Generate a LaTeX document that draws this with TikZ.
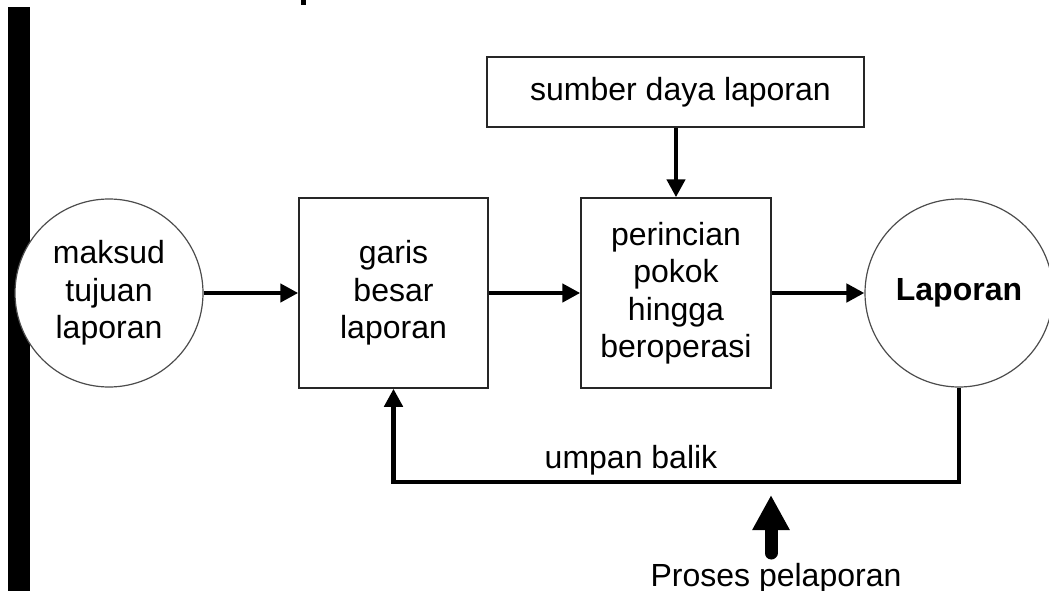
\documentclass[tikz,border=0pt]{standalone}
\usepackage{fontspec}
\setmainfont{Liberation Sans}
\usetikzlibrary{arrows.meta}
\begin{document}
\begin{tikzpicture}[x=1pt,y=-1pt,
  txt/.style={font=\fontsize{32}{37.5}\selectfont},
  box/.style={txt, draw=black!85, line width=1.5pt, inner sep=0pt, align=center},
  circ/.style={txt, circle, draw=black!70, fill=white, line width=1.2pt, minimum size=188pt, inner sep=0pt, align=center},
  conn/.style={line width=4.5pt, -{Triangle[length=18pt,width=18pt]}},
  lbl/.style={txt, inner sep=0pt, anchor=base}]
\useasboundingbox (0,0) rectangle (1049,591);
% left black bar and title remnant
\fill[black] (8,7) rectangle (30,591);
\fill[black] (301,0) rectangle (306,5);
% nodes
\node[circ] (tuj) at (109,293) {maksud\\tujuan\\laporan};
\node[box, minimum width=189pt, minimum height=190pt] (gar) at (393.5,293) {garis\\besar\\laporan};
\node[box, minimum width=190pt, minimum height=190pt] (per) at (676,293) {perincian\\pokok\\hingga\\beroperasi};
\node[box, minimum width=377pt, minimum height=70pt] (sum) at (675.5,92) {\hspace*{10pt}sumber daya laporan};
\node[circ, font=\fontsize{32}{37.5}\selectfont\bfseries] (lap) at (959,293) {Laporan};
\node[lbl] (fbl) at (631,468) {umpan balik};
\node[lbl] (pro) at (776,586) {Proses pelaporan};
\coordinate (fbL) at (393.5,482);
\coordinate (pbase) at (771,553);
\coordinate (ptip) at (771,495);
% connectors
\draw[conn] (tuj.east) -- (gar.west);
\draw[conn] (gar.east) -- (per.west);
\draw[conn] (per.east) -- (lap.west);
\draw[conn] (sum.south -| per.north) -- (per.north);
\draw[conn] (lap.south) |- (fbL) -- (gar.south);
\draw[line width=13pt, line cap=round, -{Triangle[length=35pt,width=35pt]}] (pbase) -- (ptip);
\end{tikzpicture}
\end{document}
